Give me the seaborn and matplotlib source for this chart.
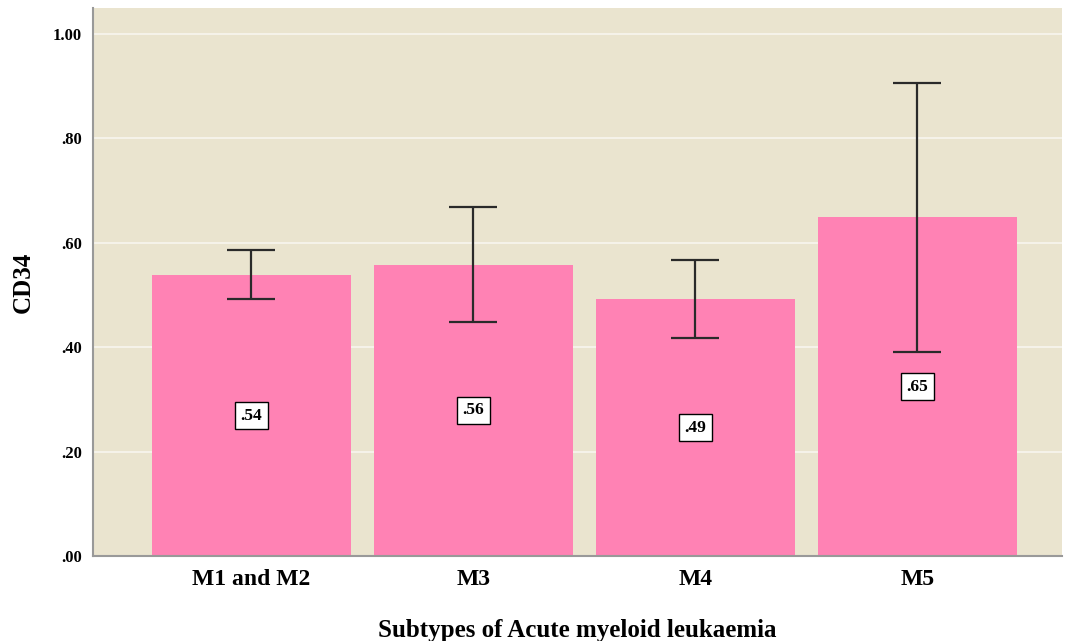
import matplotlib
matplotlib.use("Agg")
import matplotlib.pyplot as plt
import seaborn as sns
import pandas as pd

categories = ["M1 and M2", "M3", "M4", "M5"]
means = [0.538, 0.558, 0.492, 0.649]
ci_low = [0.492, 0.448, 0.418, 0.391]
ci_high = [0.586, 0.669, 0.567, 0.906]
value_labels = [".54", ".56", ".49", ".65"]
yticks = [0.0, 0.2, 0.4, 0.6, 0.8, 1.0]
ytick_labels = [".00", ".20", ".40", ".60", ".80", "1.00"]

sns.set_theme(style="white")
plt.rcParams['font.family'] = ['Liberation Serif', 'DejaVu Serif']
plt.rcParams['text.color'] = 'black'
plt.rcParams['axes.labelcolor'] = 'black'
plt.rcParams['xtick.color'] = 'black'
plt.rcParams['ytick.color'] = 'black'

df = pd.DataFrame({"cat": categories, "mean": means})

fig = plt.figure(figsize=(10.71, 6.41), dpi=100)
ax = fig.add_axes([0.0868, 0.1326, 0.9048, 0.8549])
ax.set_facecolor("#EAE4CF")
ax.set_axisbelow(True)
ax.yaxis.grid(True, color="#F7F4EC", linewidth=1.3)
ax.xaxis.grid(False)

sns.barplot(data=df, x="cat", y="mean", color="#FF82B4", saturation=1,
            width=0.9, errorbar=None, ax=ax, edgecolor="none")

xpos = list(range(len(categories)))
yerr = [[m - l for m, l in zip(means, ci_low)], [h - m for m, h in zip(means, ci_high)]]
ax.errorbar(xpos, means, yerr=yerr, fmt="none", ecolor="#2a2a2a",
            elinewidth=1.6, capsize=17.5, capthick=1.6, zorder=5)

for x, m, lab in zip(xpos, means, value_labels):
    ax.text(x, m / 2, lab, ha="center", va="center", fontsize=12.5, fontweight="bold",
            color="black", zorder=6,
            bbox=dict(boxstyle="square,pad=0.3", facecolor="white", edgecolor="black", linewidth=1))

ax.set_ylim(0, 1.05)
ax.set_xlim(-0.714, 3.651)
ax.set_yticks(yticks)
ax.set_yticklabels(ytick_labels, fontsize=12, fontweight="bold")
ax.tick_params(axis="x", labelsize=17, length=0, pad=9, colors="black")
ax.tick_params(axis="y", length=0, pad=8, colors="black")
for lab in ax.get_xticklabels():
    lab.set_fontweight("bold")

ax.set_xlabel("Subtypes of Acute myeloid leukaemia", fontsize=18, fontweight="bold",
              labelpad=21, color="black")
ax.set_ylabel("CD34", fontsize=18, fontweight="bold", labelpad=13, color="black")

for s in ["top", "right"]:
    ax.spines[s].set_visible(False)
for s in ["left", "bottom"]:
    ax.spines[s].set_visible(True)
    ax.spines[s].set_color("#999999")
    ax.spines[s].set_linewidth(1.5)

fig.savefig("out.png", dpi=100)
